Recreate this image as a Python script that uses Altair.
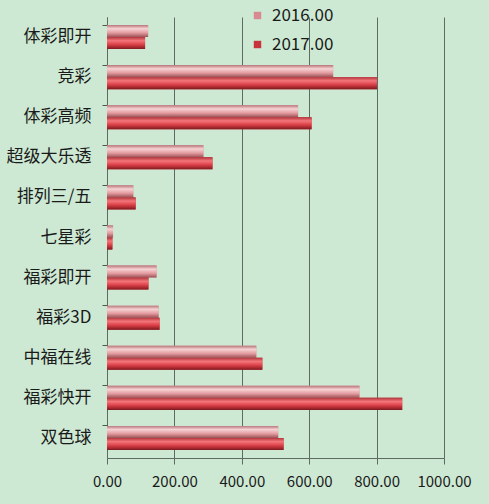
import altair as alt
import pandas as pd

categories = ["体彩即开", "竞彩", "体彩高频", "超级大乐透", "排列三/五", "七星彩",
              "福彩即开", "福彩3D", "中福在线", "福彩快开", "双色球"]
series = ["2016.00", "2017.00"]
v2016 = [122, 671, 567, 286, 78, 18, 147, 153, 443, 749, 508]
v2017 = [113, 801, 607, 313, 85, 16, 123, 156, 461, 876, 524]
x_ticks = [0, 200, 400, 600, 800, 1000]

rows = []
for c, a, b in zip(categories, v2016, v2017):
    rows.append({"cat": c, "series": series[0], "value": a})
    rows.append({"cat": c, "series": series[1], "value": b})
df = pd.DataFrame(rows)

FONT = "Noto Sans CJK SC"
grad16 = alt.LinearGradient(
    gradient="linear", x1=0, x2=0, y1=0, y2=1,
    stops=[alt.GradientStop(color="#b8767a", offset=0),
           alt.GradientStop(color="#f6d2d3", offset=0.3),
           alt.GradientStop(color="#e39ba0", offset=0.65),
           alt.GradientStop(color="#9a5257", offset=1)])
grad17 = alt.LinearGradient(
    gradient="linear", x1=0, x2=0, y1=0, y2=1,
    stops=[alt.GradientStop(color="#b1353b", offset=0),
           alt.GradientStop(color="#f4767b", offset=0.3),
           alt.GradientStop(color="#d83c44", offset=0.65),
           alt.GradientStop(color="#7e1a1f", offset=1)])

yscale = alt.Scale(domain=categories, paddingInner=0.4, paddingOuter=0.2)
xscale = alt.Scale(domain=[0, 1000], nice=False)
offscale = alt.Scale(domain=series, paddingInner=0, paddingOuter=0)

xaxis = alt.Axis(values=x_ticks, format=".2f", title=None,
                 grid=True, gridColor="#5d6b60", gridWidth=1,
                 domainColor="#5d6b60", tickColor="#5d6b60",
                 tickSize=6, labelPadding=10, labelFontSize=15,
                 labelColor="#1a1a1a", labelFont=FONT,
                 labelOverlap=False, labelBound=False, labelFlush=False)
xenc = alt.X("value:Q", scale=xscale, axis=xaxis)
ylab_axis = alt.Axis(title=None, ticks=False, labelFontSize=17,
                     labelFont=FONT, labelColor="#1a1a1a",
                     labelPadding=16, domainColor="#5d6b60", orient="left")

base = alt.Chart(df)

legend_layer = base.mark_bar().encode(
    x=xenc,
    y=alt.Y("cat:N", scale=yscale, axis=ylab_axis),
    yOffset=alt.YOffset("series:N", scale=offscale),
    color=alt.Color("series:N",
                    scale=alt.Scale(domain=series, range=["#d98a90", "#c8323a"]),
                    legend=alt.Legend(title=None, orient="none", legendX=142, legendY=-10,
                                      symbolType="square", symbolSize=55,
                                      symbolStrokeWidth=0,
                                      labelFontSize=17, labelFont=FONT,
                                      labelColor="#1a1a1a", rowPadding=11,
                                      labelOffset=6, padding=0)),
)

def gradient_layer(s, g):
    return base.transform_filter(alt.datum.series == s).mark_bar(fill=g).encode(
        x=xenc,
        y=alt.Y("cat:N", scale=yscale, axis=ylab_axis),
        yOffset=alt.YOffset("series:N", scale=offscale),
    )

bars = alt.layer(legend_layer, gradient_layer(series[0], grad16),
                 gradient_layer(series[1], grad17))

tick_layer = base.mark_bar(opacity=0).encode(
    x=xenc,
    y=alt.Y("cat:N", scale=yscale,
            axis=alt.Axis(title=None, labels=False, ticks=True, domain=False,
                          bandPosition=0, tickColor="#4d5a50", tickSize=5,
                          tickWidth=1, orient="left")),
)

chart = alt.layer(bars, tick_layer).resolve_axis(
    y="independent"
).properties(
    width=337, height=441,
    background="#cde9d3",
    padding={"left": 107, "top": 17, "right": 45, "bottom": 46},
    autosize=alt.AutoSizeParams(type="none"),
).configure_view(stroke=None)

chart.save("out.html", embed_options={"renderer": "svg", "actions": False})
